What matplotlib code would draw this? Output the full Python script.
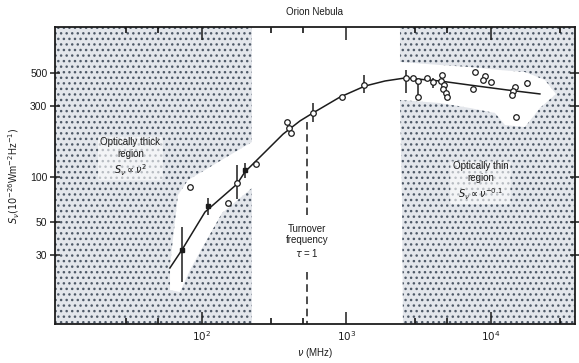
"""Orion Nebula radio spectrum: flux density vs frequency with the
optically thick / thin regions stippled and the turnover marked."""
import matplotlib
matplotlib.use("Agg")
import matplotlib.pyplot as plt
from matplotlib.patches import Polygon
from matplotlib.ticker import FixedLocator, NullFormatter, NullLocator

plt.rcParams["font.family"] = ["Liberation Sans", "DejaVu Sans"]
plt.rcParams["hatch.linewidth"] = 1.0

# ── data ─────────────────────────────────────────────────────────────────────
# frequency in MHz, flux density in 1e-26 W m^-2 Hz^-1

NU_OBS = [82.6, 151, 175, 236, 387, 399, 412, 586, 931, 1322, 2575, 2885,
          3110, 3110, 3600, 3970, 4590, 4510, 4740, 4660, 4890, 4950,
          7510, 7770, 9080, 8790, 9985, 14600, 14100, 13900, 14900, 17800]
S_OBS = [85.7, 66.9, 91.2, 122, 234, 213, 197, 269, 344, 414, 461, 461,
         441, 344, 461, 434, 483, 441, 414, 389, 366, 344,
         389, 507, 476, 449, 434, 401, 378, 355, 253, 427]

# points drawn as small dots on the fitted curve
NU_DOT = [72.8, 110, 198]
S_DOT = [32.4, 63.9, 111]

# vertical error bars
NU_ERR = [72.8, 110, 175, 198, 586, 1322, 2575, 3110, 3970, 17800]
S_ERR = [32.4, 63.9, 91.2, 111, 269, 414, 461, 441, 434, 427]
S_ERR_LO = [19.8, 55.6, 71.2, 98.5, 234, 366, 366, 344, 395, 401]
S_ERR_HI = [46.2, 72.3, 120, 124, 314, 483, 523, 441, 461, 449]

# hand-drawn thermal spectrum through the points
NU_FIT = [60.0, 72.7, 105, 175, 198, 273, 364, 477, 586, 902, 1343, 1847,
          2540, 4436, 7157, 12900, 21800]
S_FIT = [24.5, 32.4, 58.2, 89.7, 108, 147, 194, 238, 269, 344, 408, 441,
         462, 441, 414, 384, 361]

NU_TURNOVER = 533
X_TICKS = [1e2, 1e3, 1e4]
X_TICK_LABELS = ["$10^2$", "$10^3$", "$10^4$"]
X_MINOR = [30, 50, 300, 500, 3000, 5000, 30000]
Y_TICKS = [30, 50, 100, 300, 500]

INK = "#1c1c1c"
STIPPLE = dict(facecolor="#e3e6eb", edgecolor="#4f5a68", hatch="...",
               linewidth=0, zorder=0)

# stippled outlines, axes fractions
THICK_REGION = [(0, 1), (0.3788, 1), (0.3788, 0.6128), (0.3269, 0.5589),
                (0.2885, 0.5185), (0.2558, 0.4848), (0.2365, 0.4343),
                (0.2288, 0.3165), (0.2212, 0.1987), (0.2212, 0.1145),
                (0.2404, 0.1077), (0.2596, 0.1818), (0.2885, 0.2727),
                (0.3212, 0.3737), (0.3558, 0.4242), (0.3788, 0.4579),
                (0.3788, 0), (0, 0)]
THIN_REGION = [(0.6635, 1), (1, 1), (1, 0), (0.6692, 0), (0.6673, 0.4175),
               (0.6635, 0.7542), (0.7404, 0.7441), (0.7981, 0.7273),
               (0.8462, 0.7104), (0.8654, 0.6700), (0.9038, 0.6633),
               (0.9327, 0.7273), (0.9635, 0.7744), (0.9423, 0.8215),
               (0.9038, 0.8485), (0.8558, 0.8552), (0.7981, 0.8653),
               (0.7404, 0.8721), (0.6635, 0.8822)]


def main() -> None:
    fig = plt.figure(figsize=(5.79, 3.63), dpi=100)
    ax = fig.add_axes([0.095, 0.1074, 0.898, 0.8182])
    ax.set_xscale("log")
    ax.set_yscale("log")
    ax.set_xlim(9.62, 38100)
    ax.set_ylim(10.3, 1016)

    for outline in (THICK_REGION, THIN_REGION):
        ax.add_patch(Polygon(outline, closed=True, transform=ax.transAxes,
                             **STIPPLE))

    ax.plot(NU_FIT, S_FIT, color=INK, lw=1.1, zorder=3)
    yerr = [[s - lo for s, lo in zip(S_ERR, S_ERR_LO)],
            [hi - s for s, hi in zip(S_ERR, S_ERR_HI)]]
    ax.errorbar(NU_ERR, S_ERR, yerr=yerr, fmt="none", ecolor=INK,
                elinewidth=1.1, capsize=0, zorder=3)
    ax.plot(NU_DOT, S_DOT, "s", ms=2.2, color=INK, zorder=4)
    ax.plot(NU_OBS, S_OBS, "o", ms=4, mfc="white", mec=INK, mew=0.9, zorder=4)

    # turnover marker, broken around its label
    ax.plot([NU_TURNOVER] * 2, [234, 55.6], ls=(0, (5, 3)), color=INK, lw=1.1)
    ax.plot([NU_TURNOVER] * 2, [23, 10.3], ls=(0, (5, 3)), color=INK, lw=1.1)
    ax.text(NU_TURNOVER, 37, "Turnover\nfrequency\n$\\tau$ = 1",
            ha="center", va="center", fontsize=7, color=INK, linespacing=1.15)

    box = dict(boxstyle="round,pad=0.25", fc="white", ec="none", alpha=0.6)
    ax.text(0.145, 0.56, "Optically thick\nregion\n$S_\\nu \\propto \\nu^2$",
            transform=ax.transAxes, ha="center", va="center", fontsize=7,
            color=INK, linespacing=1.25, bbox=box)
    ax.text(0.818, 0.48, "Optically thin\nregion\n$S_\\nu \\propto \\nu^{-0.1}$",
            transform=ax.transAxes, ha="center", va="center", fontsize=7,
            color=INK, linespacing=1.25, bbox=box)

    ax.set_title("Orion Nebula", fontsize=7, color=INK, pad=9)
    ax.set_xlabel("$\\nu$ (MHz)", fontsize=7, color=INK, labelpad=2)
    ax.set_ylabel("$S_\\nu(10^{-26}$Wm$^{-2}$Hz$^{-1})$", fontsize=7,
                  color=INK, labelpad=6)

    ax.xaxis.set_major_locator(FixedLocator(X_TICKS))
    ax.set_xticklabels(X_TICK_LABELS)
    ax.xaxis.set_minor_locator(FixedLocator(X_MINOR))
    ax.xaxis.set_minor_formatter(NullFormatter())
    ax.yaxis.set_major_locator(FixedLocator(Y_TICKS))
    ax.set_yticklabels([str(v) for v in Y_TICKS])
    ax.yaxis.set_minor_locator(NullLocator())
    ax.tick_params(axis="x", which="major", direction="in", length=9,
                   width=1.1, top=True, labelsize=7.5, colors=INK, pad=4)
    ax.tick_params(axis="x", which="minor", direction="in", length=4,
                   width=1.1, top=True)
    ax.tick_params(axis="y", which="major", direction="inout", length=7,
                   width=1.1, right=True, labelsize=7.5, colors=INK, pad=2)
    for side in ax.spines.values():
        side.set_linewidth(1.3)
        side.set_color(INK)

    fig.savefig("out.png", dpi=100)
    plt.close(fig)


if __name__ == "__main__":
    main()
